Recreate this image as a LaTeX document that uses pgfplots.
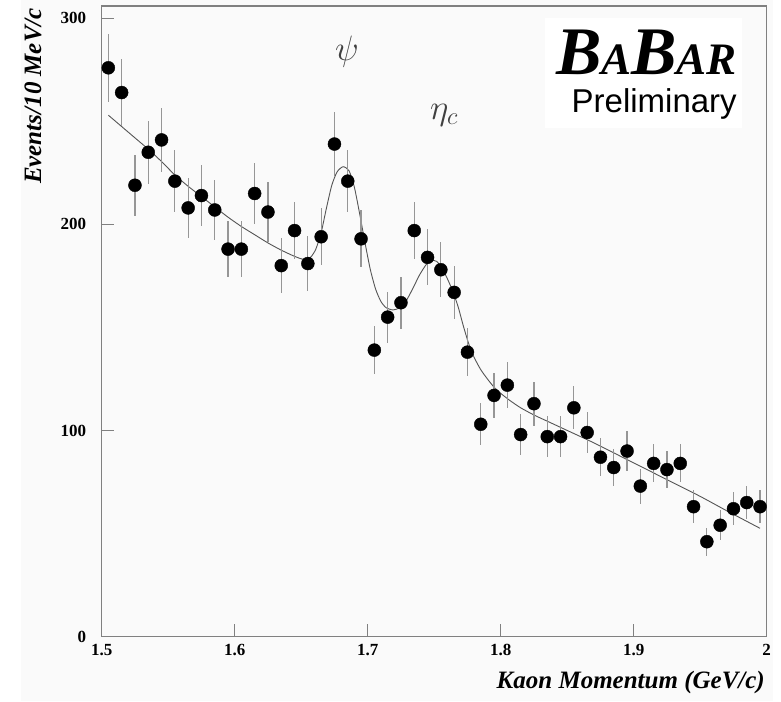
\documentclass[border=0pt]{standalone}
\usepackage{fontspec}
\setmainfont{Liberation Serif}
\newfontfamily\helv{Liberation Sans}
\usepackage{pgfplots}
\pgfplotsset{compat=1.18}
\usepackage{pgfplotstable}

\definecolor{bggray}{RGB}{250,250,250}
\definecolor{framegray}{RGB}{128,128,128}
\definecolor{errgray}{RGB}{150,150,150}
\definecolor{fitgray}{RGB}{85,85,85}

% kaon momentum spectrum, 10 MeV/c bins, with statistical errors
\pgfplotstableread{
p     n    err
1.505 276 16.6
1.515 264 16.2
1.525 219 14.8
1.535 235 15.3
1.545 241 15.5
1.555 221 14.9
1.565 208 14.4
1.575 214 14.6
1.585 207 14.4
1.595 188 13.7
1.605 188 13.7
1.615 215 14.7
1.625 206 14.4
1.635 180 13.4
1.645 197 14.0
1.655 181 13.5
1.665 194 13.9
1.675 239 15.5
1.685 221 14.9
1.695 193 13.9
1.705 139 11.8
1.715 155 12.4
1.725 162 12.7
1.735 197 14.0
1.745 184 13.6
1.755 178 13.3
1.765 167 12.9
1.775 138 11.7
1.785 103 10.1
1.795 117 10.8
1.805 122 11.0
1.815 98  9.9
1.825 113 10.6
1.835 97  9.8
1.845 97  9.8
1.855 111 10.5
1.865 99  9.9
1.875 87  9.3
1.885 82  9.1
1.895 90  9.5
1.905 73  8.5
1.915 84  9.2
1.925 81  9.0
1.935 84  9.2
1.945 63  7.9
1.955 46  6.8
1.965 54  7.3
1.975 62  7.9
1.985 65  8.1
1.995 63  7.9
}\kaons

% fitted curve: smooth background plus psi and eta_c peaks
\pgfplotstableread{
p      f
1.505  253
1.515  247.5
1.525  242
1.535  236.5
1.545  230.5
1.555  224
1.565  218.5
1.575  213.5
1.585  208.5
1.595  203.5
1.605  199
1.615  195
1.625  191
1.635  187.5
1.645  184.5
1.652  183
1.657  184
1.661  188
1.665  196
1.669  208
1.673  219
1.677  225.5
1.6815 228
1.686  226
1.690  218
1.694  205
1.698  191
1.702  178
1.706  168.5
1.710  162.5
1.714  159.5
1.719  158.5
1.724  159.5
1.729  163
1.734  169
1.739  175.5
1.744  180.5
1.748  182.5
1.752  182
1.756  178.5
1.760  173.5
1.764  167.5
1.768  160
1.772  150.5
1.776  142
1.780  135.5
1.785  129.5
1.790  125
1.795  121
1.800  118
1.807  114.5
1.815  111
1.825  107.5
1.835  104.5
1.850  100
1.870  94
1.890  87.5
1.910  81
1.930  74.5
1.950  68
1.970  61
1.995  52.5
}\fitcurve

\begin{document}
\begin{tikzpicture}
\fill[white] (0pt,0pt) rectangle (781pt,701pt);
\fill[bggray] (21pt,0pt) rectangle (773pt,701pt);
\begin{axis}[
  at={(101.7pt,64.5pt)}, anchor=south west,
  scale only axis, width=665pt, height=630.5pt,
  xmin=1.5, xmax=2.0, ymin=0, ymax=306,
  axis background/.style={fill=bggray},
  axis line style={framegray, line width=1.3pt},
  tick pos=left, tick align=inside, major tick length=12pt,
  tick style={framegray, line width=1pt},
  xtick={1.5,1.6,1.7,1.8,1.9,2.0},
  xticklabels={1.5,1.6,1.7,1.8,1.9,2},
  ytick={0,100,200,300},
  yticklabels={0,100,200,300},
  ticklabel style={font=\fontsize{17}{17}\selectfont\bfseries},
  yticklabel style={xshift=-12pt},
  xticklabel style={yshift=-4pt},
]
\addplot[fitgray, line width=0.9pt, smooth, tension=0.4]
  table[x=p, y=f] {\fitcurve};
\addplot[only marks, mark=*, mark size=6.5pt,
  mark options={fill=black, draw=black},
  error bars/.cd, y dir=both, y explicit,
  error mark=none, error bar style={errgray, line width=1.2pt}]
  table[x=p, y=n, y error=err] {\kaons};
\node[black!75, font=\fontsize{20}{20}\selectfont, scale=1.7] at (axis cs:1.6844,284) {$\psi$};
\node[black!75, font=\fontsize{20}{20}\selectfont, scale=1.7] at (axis cs:1.7575,253) {$\eta_c$};
\end{axis}
% experiment logo
\fill[white] (545pt,573pt) rectangle (742pt,683pt);
\node[anchor=base west, inner sep=0pt] at (556pt,626pt)
  {\bfseries\itshape\fontsize{68}{68}\selectfont B\fontsize{45}{45}\selectfont A\fontsize{68}{68}\selectfont B\fontsize{45}{45}\selectfont AR};
\node[anchor=base west, inner sep=0pt] at (571.5pt,588pt)
  {\helv\fontsize{33}{33}\selectfont Preliminary};
% axis titles
\node[anchor=base east, inner sep=0pt, rotate=90] at (41pt,693pt)
  {\bfseries\itshape\fontsize{25}{25}\selectfont Events/10 MeV/c};
\node[anchor=base east, inner sep=0pt] at (765pt,13pt)
  {\bfseries\itshape\fontsize{25}{25}\selectfont Kaon Momentum (GeV/c)};
\pgfresetboundingbox
\path (0pt,0pt) rectangle (781pt,701pt);
\end{tikzpicture}
\end{document}
